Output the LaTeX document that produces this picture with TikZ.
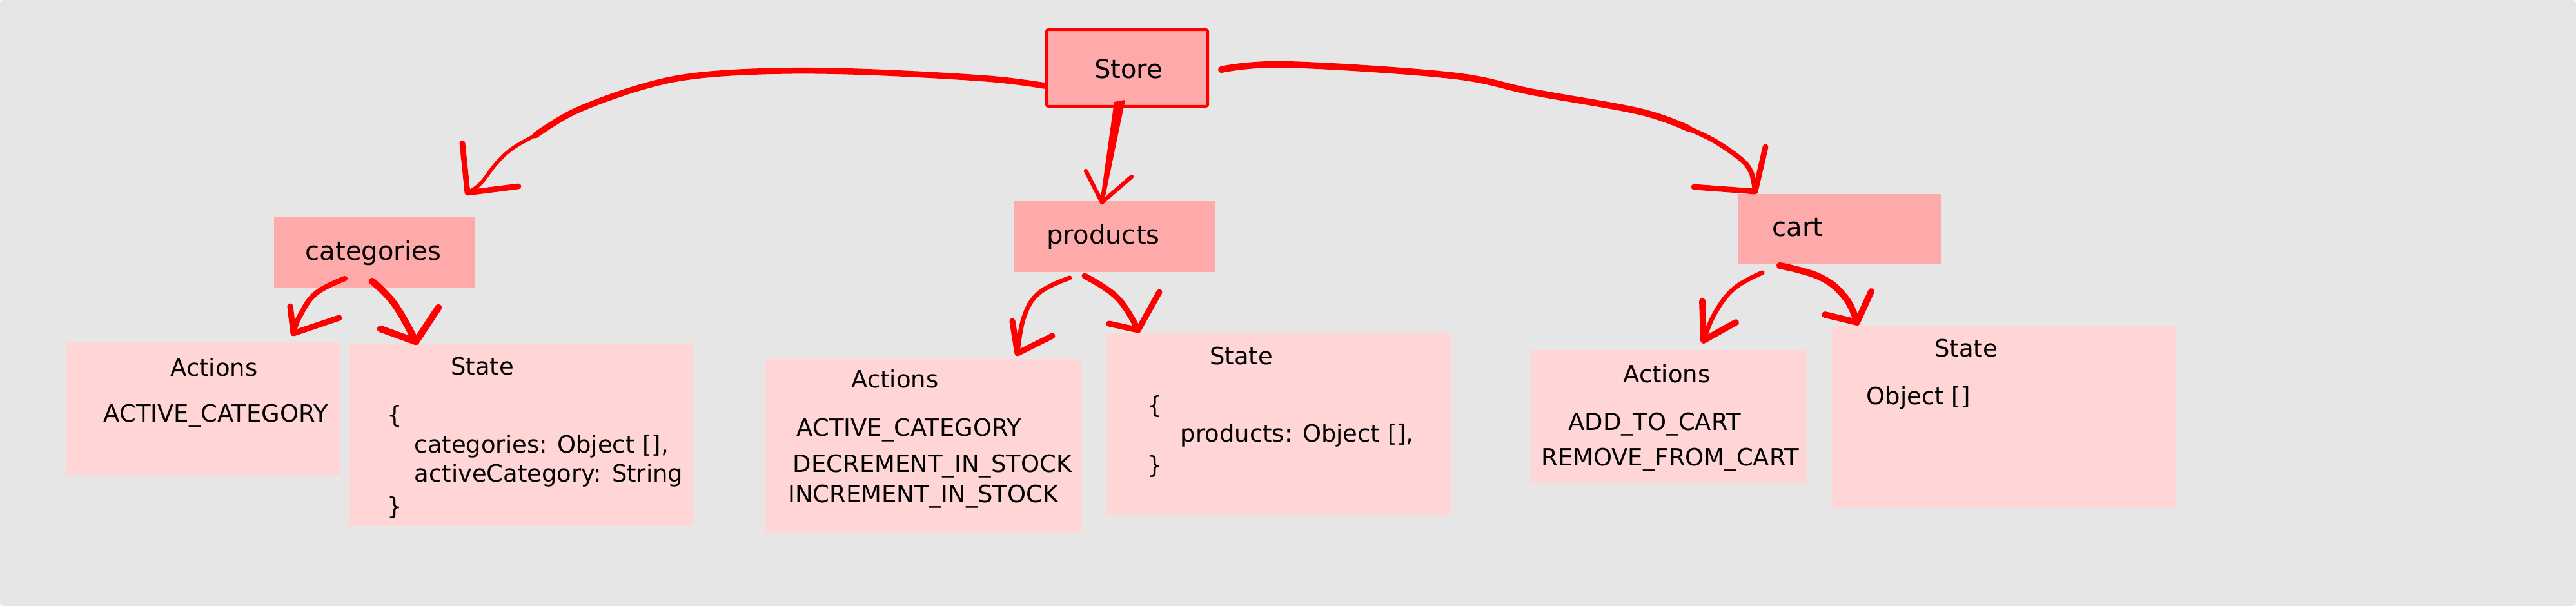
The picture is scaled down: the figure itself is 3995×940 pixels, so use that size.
\documentclass[tikz,border=0pt]{standalone}
\usepackage{fontspec}
\setmainfont{DejaVu Sans}
\usetikzlibrary{fit}
\definecolor{bgcol}{HTML}{E6E6E6}
\definecolor{titlefill}{HTML}{FFAAAA}
\definecolor{boxfill}{HTML}{FFD5D5}
\begin{document}
\begin{tikzpicture}[x=0.01cm,y=-0.01cm,
  titlebox/.style={fill=titlefill, inner sep=0pt},
  infobox/.style={fill=boxfill, inner sep=0pt},
  lbl/.style={inner sep=0pt, font=\fontsize{11.4}{13}\selectfont},
  txt/.style={inner sep=0pt, font=\fontsize{10.5}{12}\selectfont},
  flow/.style={red, line cap=round, line join=round},
  head/.style={red, line cap=round, line join=round}]
\useasboundingbox (0,0) rectangle (3995,940);
\fill[bgcol, rounded corners=0.04cm] (0,0) rectangle (3995,940);

% boxes
\node[titlebox, draw=red, line width=1.15pt, rounded corners=0.8pt, fit={(1623,46) (1873,165)}] (store) {};
\node[titlebox, fit={(425,337) (737,446)}] (cat) {};
\node[titlebox, fit={(1573,312) (1885,422)}] (prod) {};
\node[titlebox, fit={(2696,301) (3010,410)}] (cart) {};
\node[infobox, fit={(103,531) (528,737)}] (act1) {};
\node[infobox, fit={(541,533) (1074,816)}] (st1) {};
\node[infobox, fit={(1186,557) (1676,827)}] (act2) {};
\node[infobox, fit={(1717,516) (2250,799)}] (st2) {};
\node[infobox, fit={(2375,543) (2802,749)}] (act3) {};
\node[infobox, fit={(2841,505) (3374,788)}] (st3) {};

% titles
\node[lbl] (tstore) at (1750,107) {Store};
\node[lbl] (tcat) at (579,392) {categories};
\node[lbl] (tprod) at (1711,367) {products};
\node[lbl] (tcart) at (2788,353) {cart};

% box texts
\node[txt] (a1h) at (332,570) {Actions};
\node[txt] (a1a) at (335,645) {ACTIVE\_CATEGORY};

\node[txt] (s1h) at (748,568) {State};
\node[txt, anchor=west] (s1o) at (600,645) {\{};
\node[txt, anchor=west] (s1a) at (642,692) {categories: Object [],};
\node[txt, anchor=west] (s1b) at (642,737) {activeCategory: String};
\node[txt, anchor=west] (s1c) at (600,787) {\}};

\node[txt] (a2h) at (1388,588) {Actions};
\node[txt] (a2a) at (1410,667) {ACTIVE\_CATEGORY};
\node[txt] (a2b) at (1446,723) {DECREMENT\_IN\_STOCK};
\node[txt] (a2c) at (1432,770) {INCREMENT\_IN\_STOCK};

\node[txt] (s2h) at (1925,552) {State};
\node[txt, anchor=west] (s2o) at (1779,630) {\{};
\node[txt, anchor=west] (s2a) at (1830,675) {products: Object [],};
\node[txt, anchor=west] (s2c) at (1779,723) {\}};

\node[txt] (a3h) at (2585,580) {Actions};
\node[txt] (a3a) at (2566,658) {ADD\_TO\_CART};
\node[txt] (a3b) at (2590,713) {REMOVE\_FROM\_CART};

\node[txt] (s3h) at (3049,540) {State};
\node[txt, anchor=west] (s3a) at (2894,617) {Object []};

% connector end points
\coordinate (A1s) at (1620,133);
\coordinate (A1t) at (725,299);
\coordinate (A2s) at (1735,160);
\coordinate (A2t) at (1709,314);
\coordinate (A3s) at (1894,108);
\coordinate (A3t) at (2722,297);
\coordinate (B1s) at (535,432);
\coordinate (B1t) at (455,517);
\coordinate (B2s) at (577,436);
\coordinate (B2t) at (645,530);
\coordinate (C1s) at (1659,431);
\coordinate (C1t) at (1578,548);
\coordinate (C2s) at (1682,428);
\coordinate (C2t) at (1765,512);
\coordinate (D1s) at (2733,423);
\coordinate (D1t) at (2642,528);
\coordinate (D2s) at (2760,412);
\coordinate (D2t) at (2880,500);

% Store -> categories
\draw[flow, line width=2.7pt] plot[smooth, tension=0.6] coordinates {(A1s) (1531,122) (1352,112) (1212,110) (1084,117) (995,135) (893,172) (830,210)};
\draw[flow, line width=1.6pt] plot[smooth, tension=0.6] coordinates {(830,210) (795,230) (770,253) (745,285) (A1t)};
\draw[head, line width=2.5pt] (717,222) -- (A1t) -- (804,289);

% Store -> products (tapered stroke)
\fill[red] (1728,158) -- (1745,155) -- (1712,314) -- (1706,314) -- cycle;
\draw[flow, line width=1.2pt] (A2s) -- (A2t);
\draw[head, line width=1.8pt] (1684,265) -- (A2t) -- (1755,274);

% Store -> cart
\draw[flow, line width=2.9pt] plot[smooth, tension=0.6] coordinates {(A3s) (1995,100) (2250,117) (2378,143) (2543,173) (2620,200)};
\draw[flow, line width=2.2pt] plot[smooth, tension=0.6] coordinates {(2620,200) (2658,218) (2700,247) (2716,268) (A3t)};
\draw[head, line width=2.5pt] (2738,228) -- (A3t) -- (2627,290);

% categories -> Actions / State
\draw[flow, line width=2.3pt] plot[smooth, tension=0.7] coordinates {(B1s) (490,455) (465,490) (B1t)};
\draw[head, line width=2.6pt] (450,475) -- (B1t) -- (526,493);
\draw[flow, line width=3pt] plot[smooth, tension=0.7] coordinates {(B2s) (612,472) (B2t)};
\draw[head, line width=3pt] (590,510) -- (B2t) -- (680,477);

% products -> Actions / State
\draw[flow, line width=2pt] plot[smooth, tension=0.7] coordinates {(C1s) (1612,454) (1588,492) (C1t)};
\draw[head, line width=2.6pt] (1570,498) -- (C1t) -- (1632,521);
\draw[flow, line width=2.6pt] plot[smooth, tension=0.7] coordinates {(C2s) (1733,462) (C2t)};
\draw[head, line width=2.6pt] (1720,502) -- (C2t) -- (1798,453);

% cart -> Actions / State
\draw[flow, line width=2pt] plot[smooth, tension=0.7] coordinates {(D1s) (2690,447) (2660,485) (D1t)};
\draw[head, line width=2.8pt] (2640,467) -- (D1t) -- (2692,500);
\draw[flow, line width=2.9pt] plot[smooth, tension=0.7] coordinates {(D2s) (2823,430) (2862,462) (D2t)};
\draw[head, line width=2.8pt] (2830,488) -- (D2t) -- (2902,452);
\end{tikzpicture}
\end{document}
